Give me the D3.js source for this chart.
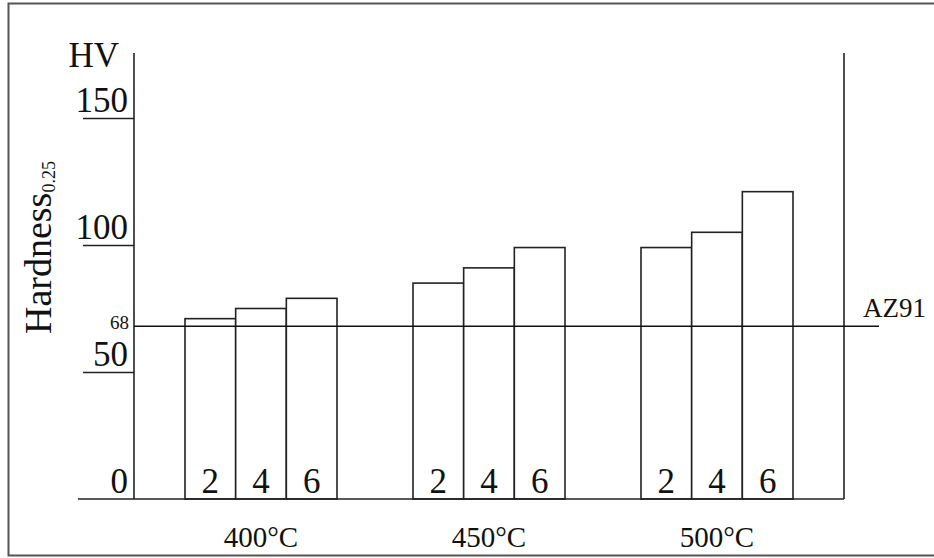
<!DOCTYPE html>
<html>
<head>
<meta charset="utf-8">
<script src="https://cdnjs.cloudflare.com/ajax/libs/d3/7.8.5/d3.min.js"></script>
<style>
  body { margin: 0; background: #fff; }
  text { font-family: "Liberation Serif", "Times New Roman", serif; fill: #111; }
</style>
</head>
<body>
<script>
// data
var temperatures = ["400°C", "450°C", "500°C"];
var times = ["2", "4", "6"];
var hardness400 = [71, 75, 79];
var hardness450 = [85, 91, 99];
var hardness500 = [99, 105, 121];
var yTicks = [0, 50, 100, 150];
var az91Value = 68;

function main() {
    var rows = buildRows();
    makeChart(rows);
}

function buildRows() {
    var series = [hardness400, hardness450, hardness500];
    var rows = [];
    temperatures.forEach(function(t, i) {
        times.forEach(function(h, j) {
            rows.push({ temp: t, time: h, value: series[i][j] });
        });
    });
    return rows;
}

function makeChart(rows) {
    var width = 934, height = 558;

    var svg = d3.select("body").append("svg")
        .attr("width", width)
        .attr("height", height);

    // outer frame (right side runs off the page)
    svg.append("rect")
        .attr("x", 8.5).attr("y", 3.5)
        .attr("width", 960).attr("height", 552)
        .attr("fill", "none")
        .attr("stroke", "#555")
        .attr("stroke-width", 2);

    // scales
    var y = d3.scaleLinear().domain([0, 150]).range([499, 118]);

    var x0 = d3.scaleBand()
        .domain(temperatures)
        .range([109, 869])
        .paddingInner(1 / 3)
        .paddingOuter(1 / 3);

    var x1 = d3.scaleBand()
        .domain(times)
        .range([0, x0.bandwidth()]);

    var axisX = 134, rightX = 844, topY = 53;

    // bars
    svg.selectAll(".bar")
        .data(rows)
        .enter().append("rect")
        .attr("class", "bar")
        .attr("x", function(d) { return x0(d.temp) + x1(d.time); })
        .attr("y", function(d) { return y(d.value); })
        .attr("width", x1.bandwidth())
        .attr("height", function(d) { return y(0) - y(d.value); })
        .attr("fill", "#fff")
        .attr("stroke", "#222")
        .attr("stroke-width", 1.6);

    // time labels inside bars
    svg.selectAll(".tlabel")
        .data(rows)
        .enter().append("text")
        .attr("class", "tlabel")
        .attr("x", function(d) { return x0(d.temp) + x1(d.time) + x1.bandwidth() / 2; })
        .attr("y", y(0) - 6)
        .attr("text-anchor", "middle")
        .attr("font-size", 35)
        .text(function(d) { return d.time; });

    // group labels
    svg.selectAll(".glabel")
        .data(temperatures)
        .enter().append("text")
        .attr("class", "glabel")
        .attr("x", function(d) { return x0(d) + x0.bandwidth() / 2; })
        .attr("y", 547)
        .attr("text-anchor", "middle")
        .attr("font-size", 29)
        .text(function(d) { return d; });

    // y axis
    var yAxis = d3.axisLeft(y)
        .tickValues(yTicks.filter(function(v) { return v > 0; }))
        .tickSize(51)
        .tickFormat("");
    var gy = svg.append("g")
        .attr("transform", "translate(" + axisX + ",0)")
        .call(yAxis);
    gy.select(".domain").remove();
    gy.selectAll(".tick line").attr("stroke", "#222").attr("stroke-width", 1.6);

    svg.selectAll(".ylabel")
        .data(yTicks)
        .enter().append("text")
        .attr("class", "ylabel")
        .attr("x", 128)
        .attr("y", function(d) { return y(d) - 6; })
        .attr("text-anchor", "end")
        .attr("font-size", 35)
        .text(function(d) { return d; });

    // axis lines
    svg.append("line")
        .attr("x1", axisX).attr("x2", axisX)
        .attr("y1", topY).attr("y2", y(0))
        .attr("stroke", "#222").attr("stroke-width", 1.6);
    svg.append("line")
        .attr("x1", rightX).attr("x2", rightX)
        .attr("y1", topY).attr("y2", y(0))
        .attr("stroke", "#222").attr("stroke-width", 1.6);
    svg.append("line")
        .attr("x1", 78).attr("x2", rightX)
        .attr("y1", y(0)).attr("y2", y(0))
        .attr("stroke", "#222").attr("stroke-width", 1.6);

    // AZ91 reference line
    svg.append("line")
        .attr("x1", axisX).attr("x2", 879)
        .attr("y1", y(az91Value)).attr("y2", y(az91Value))
        .attr("stroke", "#111").attr("stroke-width", 1.4);
    svg.append("text")
        .attr("x", 129).attr("y", y(az91Value) + 3)
        .attr("text-anchor", "end")
        .attr("font-size", 19)
        .text(az91Value);
    svg.append("text")
        .attr("x", 863).attr("y", y(az91Value) - 9)
        .attr("font-size", 27)
        .text("AZ91");

    // unit and axis title
    svg.append("text")
        .attr("x", 119).attr("y", 67)
        .attr("text-anchor", "end")
        .attr("font-size", 35)
        .text("HV");

    var title = svg.append("text")
        .attr("transform", "translate(51,334) rotate(-90)")
        .attr("font-size", 38);
    title.append("tspan").text("Hardness");
    title.append("tspan")
        .attr("font-size", 18)
        .attr("dy", 4)
        .text("0.25");
}

main();
</script>
</body>
</html>
